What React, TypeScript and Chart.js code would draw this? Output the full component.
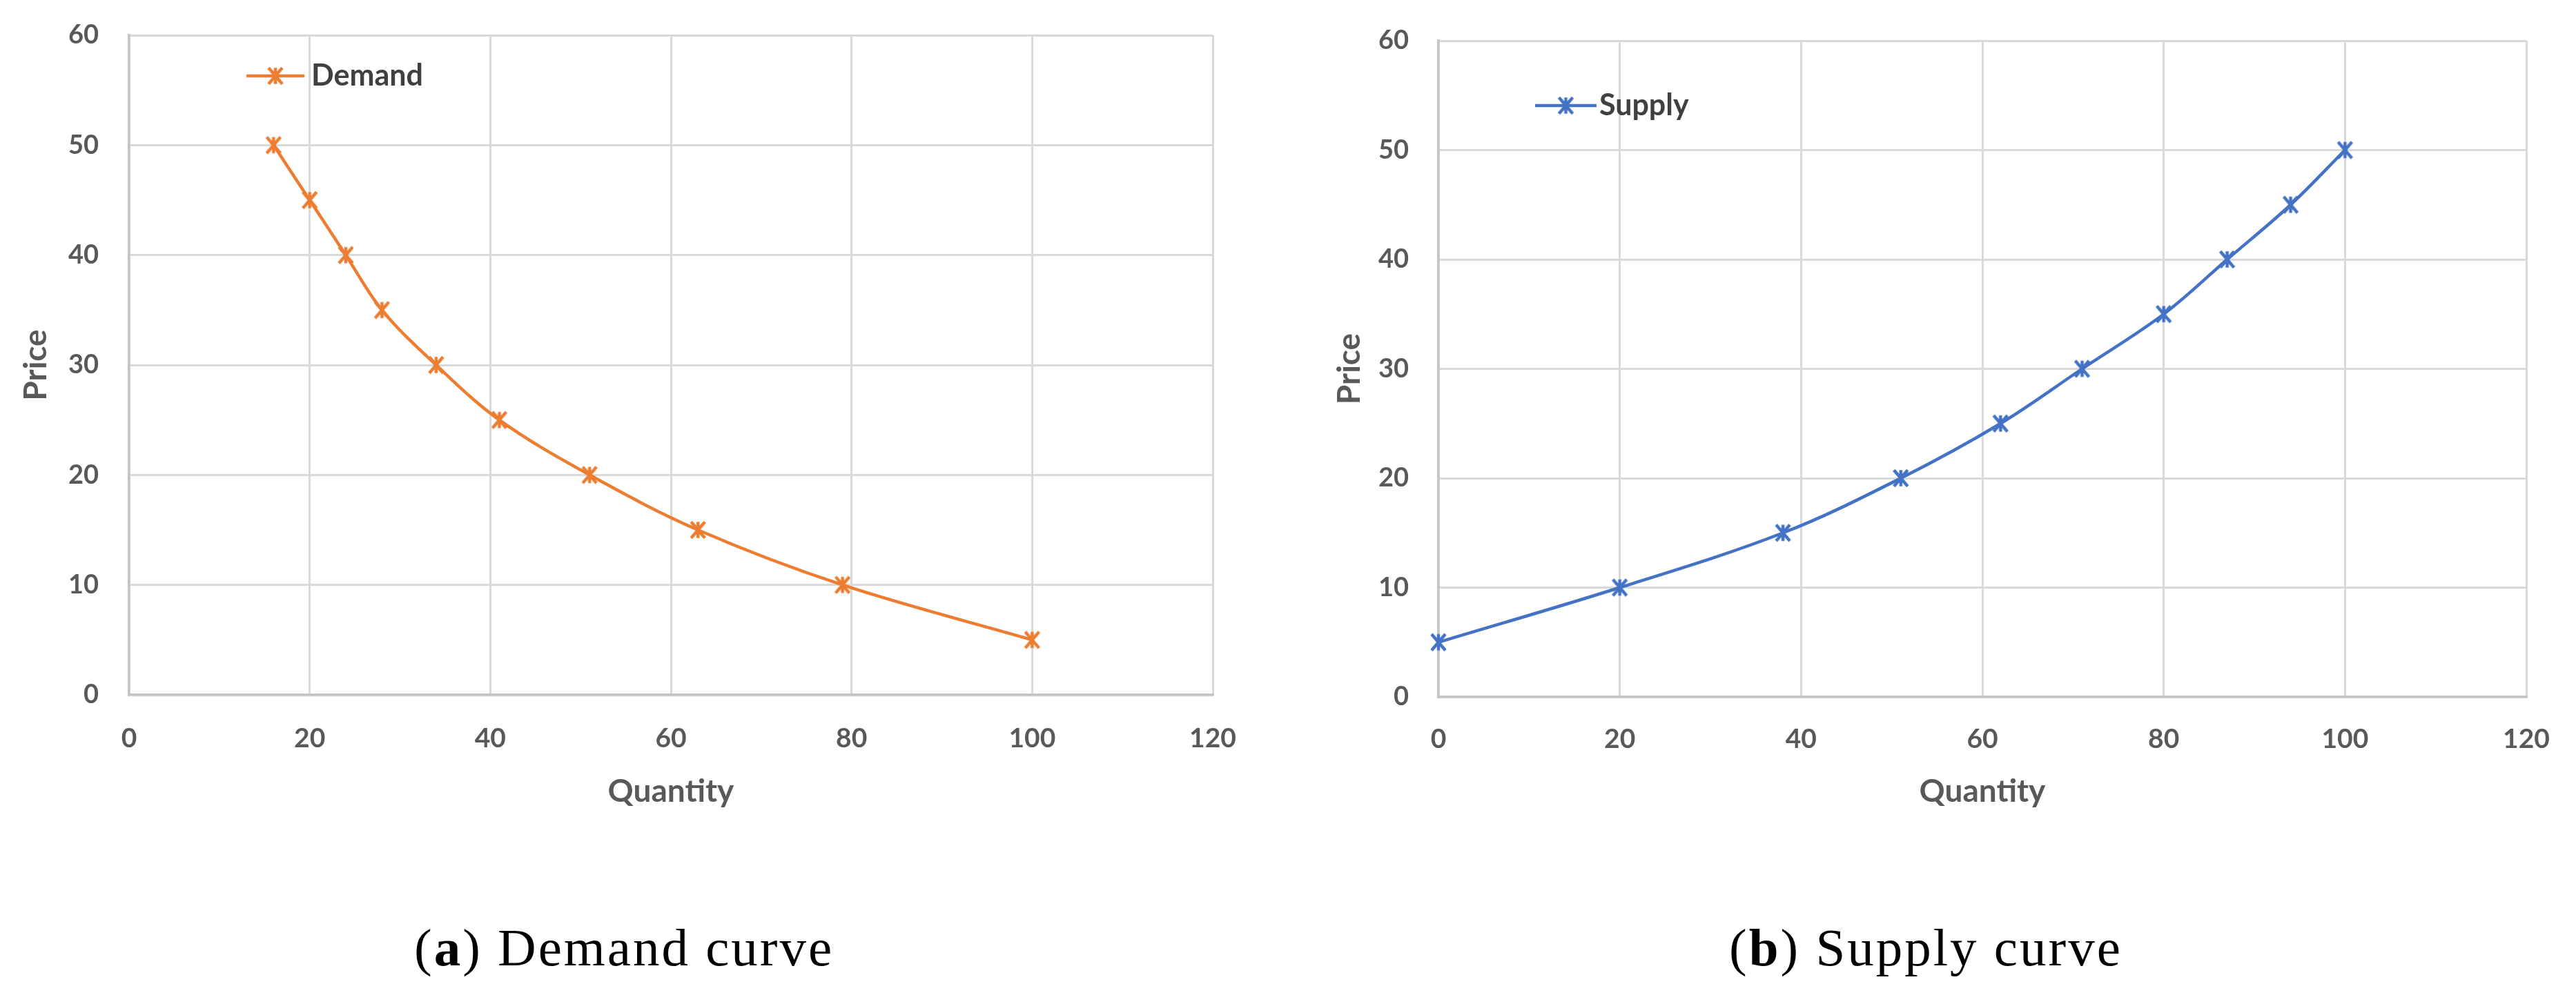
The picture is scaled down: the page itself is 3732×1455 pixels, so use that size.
import React, { useEffect, useRef } from 'react';
import { Chart, registerables } from 'chart.js';

Chart.register(...registerables);

// ---- data ----
const demandQuantity = [16, 20, 24, 28, 34, 41, 51, 63, 79, 100];
const demandPrice = [50, 45, 40, 35, 30, 25, 20, 15, 10, 5];
const supplyQuantity = [0, 20, 38, 51, 62, 71, 80, 87, 94, 100];
const supplyPrice = [5, 10, 15, 20, 25, 30, 35, 40, 45, 50];
const xTickValues = [0, 20, 40, 60, 80, 100, 120];
const yTickValues = [0, 10, 20, 30, 40, 50, 60];
const xTitle = 'Quantity';
const yTitle = 'Price';
const demandName = 'Demand';
const supplyName = 'Supply';

const FONT = 'Lato, "Open Sans", "DejaVu Sans", sans-serif';
const AXIS_GRAY = '#595959';

function makeStar(color: string, size: number, lw: number): HTMLCanvasElement {
  const c = document.createElement('canvas');
  c.width = size;
  c.height = size;
  const g = c.getContext('2d')!;
  g.strokeStyle = color;
  g.lineWidth = lw;
  g.lineCap = 'butt';
  const cx = size / 2;
  const r = size / 2 - lw / 2;
  const rx = r * 0.85;
  g.beginPath();
  g.moveTo(cx - rx, cx - r);
  g.lineTo(cx + rx, cx + r);
  g.moveTo(cx + rx, cx - r);
  g.lineTo(cx - rx, cx + r);
  g.moveTo(cx, cx - r);
  g.lineTo(cx, cx + r);
  g.stroke();
  return c;
}

const inlineLegend = {
  id: 'inlineLegend',
  afterDatasetsDraw(chart: any, _args: any, opts: any) {
    const { ctx, chartArea } = chart;
    const ds = chart.data.datasets[0];
    const x0 = chartArea.left + opts.fx * (chartArea.right - chartArea.left);
    const y0 = chartArea.top + opts.fy * (chartArea.bottom - chartArea.top);
    ctx.save();
    ctx.strokeStyle = ds.borderColor;
    ctx.lineWidth = ds.borderWidth;
    ctx.beginPath();
    ctx.moveTo(x0, y0);
    ctx.lineTo(x0 + opts.len, y0);
    ctx.stroke();
    const img = ds.pointStyle as HTMLCanvasElement;
    ctx.drawImage(img, x0 + opts.len / 2 - img.width / 2, y0 - img.height / 2);
    ctx.fillStyle = opts.color;
    ctx.font = opts.font;
    ctx.textBaseline = 'middle';
    ctx.textAlign = 'left';
    ctx.fillText(ds.label, x0 + opts.len + opts.gap, y0);
    ctx.restore();
  },
};

type Geo = {
  left: number;
  top: number;
  w: number;
  h: number;
  padTop: number;
  padRight: number;
  yWidth: number;
  xHeight: number;
  yTickPad: number;
  yTitlePad: number;
  xTickPad: number;
  xTitlePad: number;
  legFx: number;
  legFy: number;
  legLen: number;
  legGap: number;
};

function Panel(props: { xs: number[]; ys: number[]; name: string; color: string; geo: Geo }) {
  const ref = useRef<HTMLCanvasElement | null>(null);
  const { xs, ys, name, color, geo } = props;
  useEffect(() => {
    if (!ref.current) return;
    const star = makeStar(color, 28, 4.5);
    const chart = new Chart(ref.current, {
      type: 'line',
      data: {
        datasets: [
          {
            label: name,
            data: xs.map((x, i) => ({ x, y: ys[i] })),
            borderColor: color,
            backgroundColor: color,
            borderWidth: 4.5,
            tension: 0.35,
            pointStyle: star as any,
            pointRadius: 14,
            clip: false as any,
            fill: false,
          },
        ],
      },
      options: {
        animation: false,
        responsive: false,
        devicePixelRatio: 1,
        layout: { padding: { top: geo.padTop, right: geo.padRight, left: 0, bottom: 0 } },
        plugins: {
          legend: { display: false },
          tooltip: { enabled: false },
          inlineLegend: {
            fx: geo.legFx,
            fy: geo.legFy,
            len: geo.legLen,
            gap: geo.legGap,
            color: '#404040',
            font: `bold 43px ${FONT}`,
          },
        } as any,
        scales: {
          x: {
            type: 'linear',
            min: xTickValues[0],
            max: xTickValues[xTickValues.length - 1],
            afterBuildTicks: (s: any) => {
              s.ticks = xTickValues.map((v) => ({ value: v }));
            },
            afterFit: (s: any) => {
              s.height = geo.xHeight;
              s.paddingLeft = 0;
              s.paddingRight = 0;
            },
            grid: { color: '#D9D9D9', lineWidth: 3, drawTicks: false },
            border: { color: '#C4C4C4', width: 3.5 },
            ticks: {
              padding: geo.xTickPad,
              color: AXIS_GRAY,
              font: { family: FONT, size: 39, weight: 'bold' },
              maxRotation: 0,
            },
            title: {
              display: true,
              text: xTitle,
              color: AXIS_GRAY,
              font: { family: FONT, size: 46, weight: 'bold' },
              padding: { top: 0, bottom: geo.xTitlePad },
            },
          },
          y: {
            type: 'linear',
            min: yTickValues[0],
            max: yTickValues[yTickValues.length - 1],
            afterBuildTicks: (s: any) => {
              s.ticks = yTickValues.map((v) => ({ value: v }));
            },
            afterFit: (s: any) => {
              s.width = geo.yWidth;
              s.paddingTop = 0;
              s.paddingBottom = 0;
            },
            grid: { color: '#D9D9D9', lineWidth: 3, drawTicks: false },
            border: { color: '#C4C4C4', width: 3.5 },
            ticks: {
              padding: geo.yTickPad,
              color: AXIS_GRAY,
              font: { family: FONT, size: 38, weight: 'bold' },
            },
            title: {
              display: true,
              text: yTitle,
              color: AXIS_GRAY,
              font: { family: FONT, size: 46, weight: 'bold' },
              padding: { top: geo.yTitlePad, bottom: 0 },
            },
          },
        },
      } as any,
      plugins: [inlineLegend as any],
    });
    return () => chart.destroy();
  }, []);
  return (
    <canvas
      ref={ref}
      width={geo.w}
      height={geo.h}
      style={{ position: 'absolute', left: geo.left, top: geo.top, width: geo.w, height: geo.h }}
    />
  );
}

const leftGeo: Geo = {
  left: 0,
  top: 0,
  w: 1830,
  h: 1200,
  padTop: 51,
  padRight: 73,
  yWidth: 187,
  xHeight: 193,
  yTickPad: 44,
  yTitlePad: 25,
  xTickPad: 40,
  xTitlePad: 25,
  legFx: 0.1083,
  legFy: 0.0617,
  legLen: 84,
  legGap: 10,
};

const rightGeo: Geo = {
  left: 1840,
  top: 0,
  w: 1892,
  h: 1200,
  padTop: 59,
  padRight: 72,
  yWidth: 244,
  xHeight: 190,
  yTickPad: 43,
  yTitlePad: 88,
  xTickPad: 38,
  xTitlePad: 25,
  legFx: 0.0888,
  legFy: 0.0988,
  legLen: 89,
  legGap: 4,
};

const captionStyle: React.CSSProperties = {
  position: 'absolute',
  top: 1335,
  fontFamily: '"Liberation Serif", "Times New Roman", serif',
  fontSize: 77,
  lineHeight: '77px',
  letterSpacing: '3px',
  whiteSpace: 'nowrap',
  color: '#000',
};

export default function App() {
  return (
    <div
      style={{
        position: 'fixed',
        left: 0,
        top: 0,
        width: 3732,
        height: 1455,
        background: '#ffffff',
        overflow: 'hidden',
      }}
    >
      <Panel xs={demandQuantity} ys={demandPrice} name={demandName} color="#ED7D31" geo={leftGeo} />
      <Panel xs={supplyQuantity} ys={supplyPrice} name={supplyName} color="#4472C4" geo={rightGeo} />
      <div style={{ ...captionStyle, left: 600 }}>
        (<b>a</b>) Demand curve
      </div>
      <div style={{ ...captionStyle, left: 2505 }}>
        (<b>b</b>) Supply curve
      </div>
    </div>
  );
}
